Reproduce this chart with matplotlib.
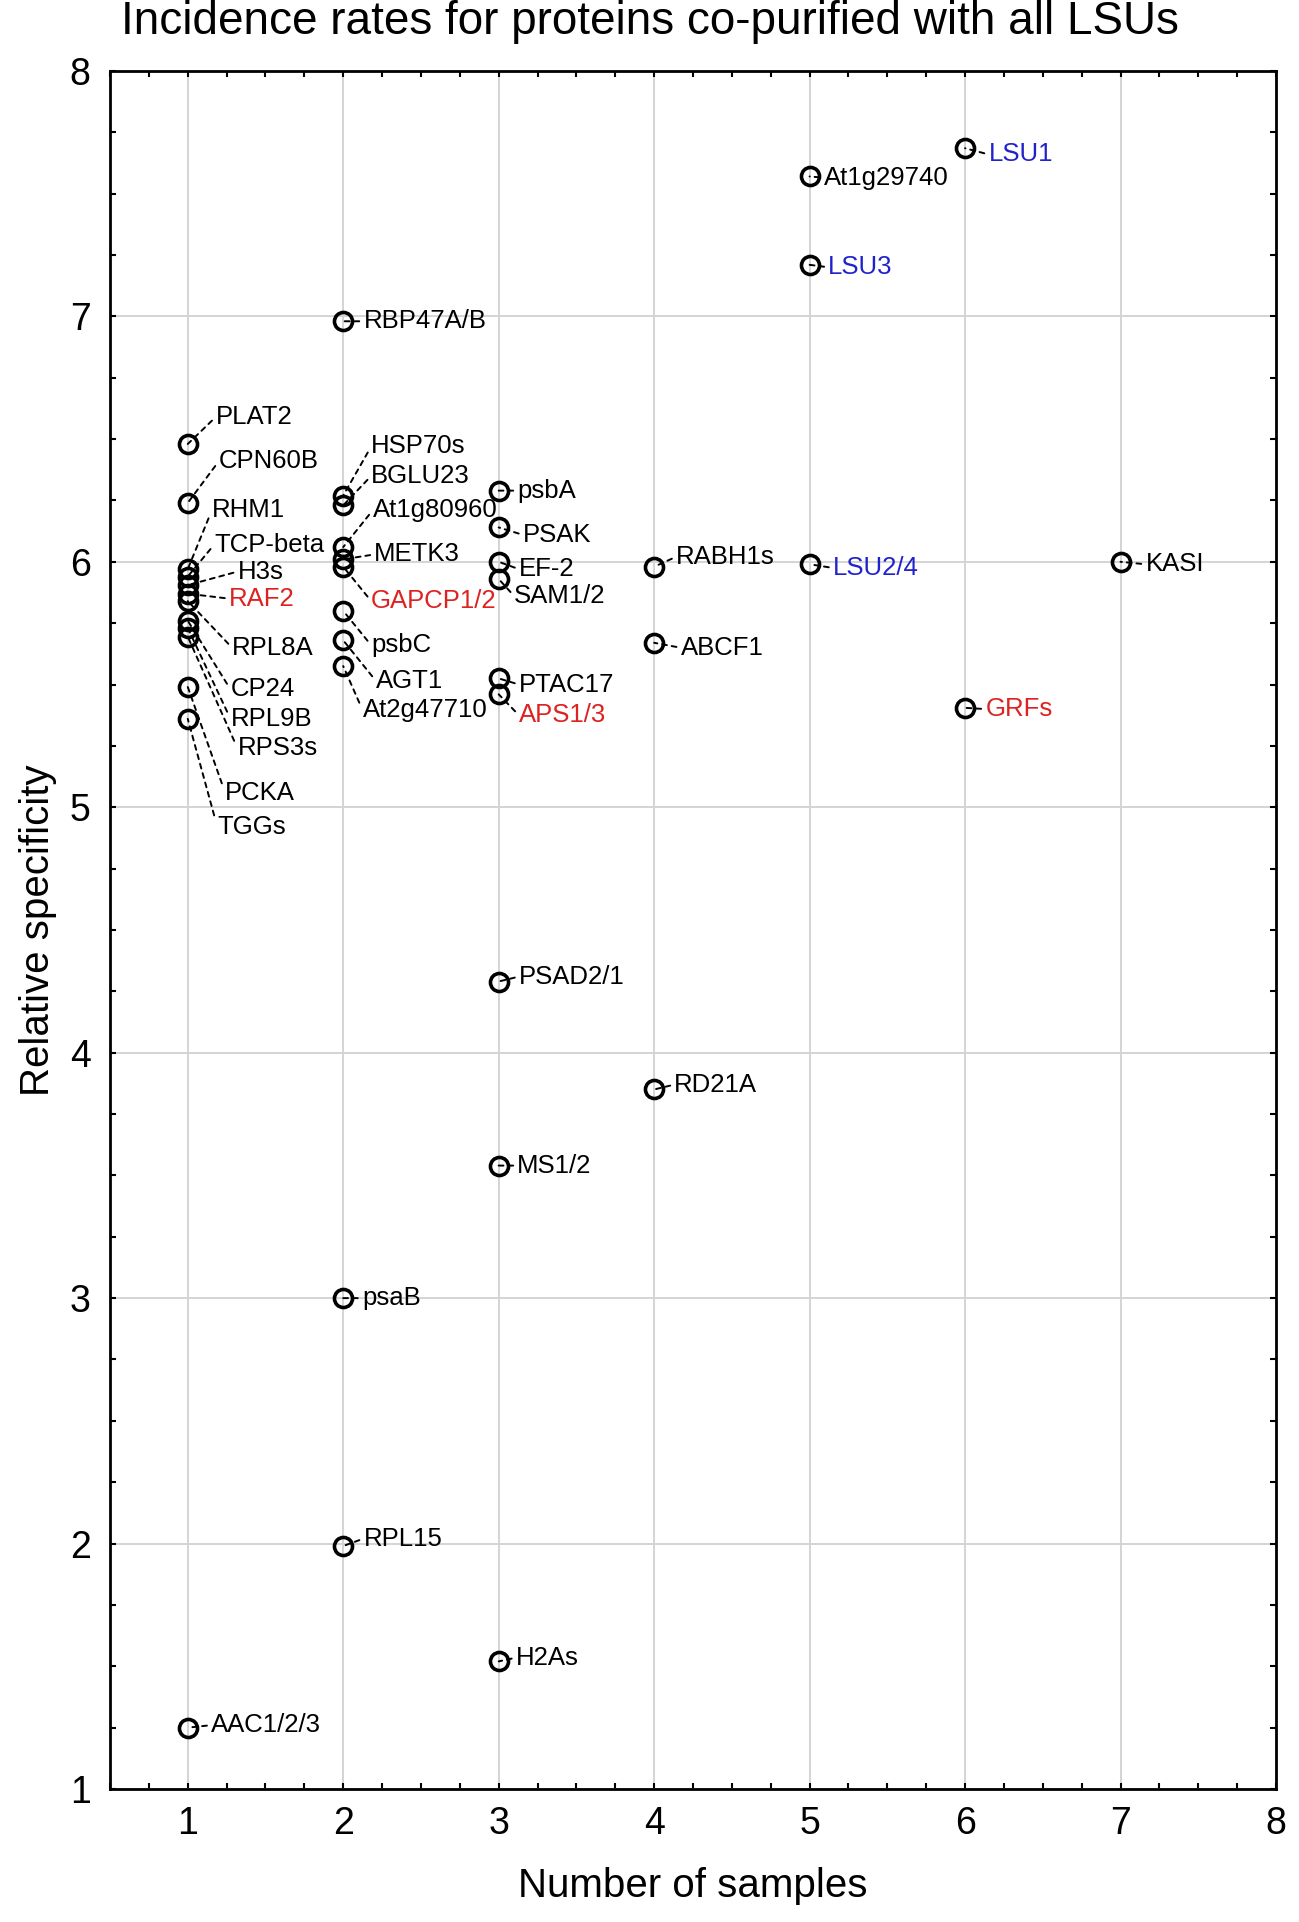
import numpy as np
import matplotlib.pyplot as plt
from matplotlib.ticker import MultipleLocator

plt.rcParams['font.family'] = ['Liberation Sans', 'DejaVu Sans']

# proteins, number of samples (x) and relative specificity (y)
proteins = ['PLAT2', 'CPN60B', 'RHM1', 'TCP-beta', 'H3s', 'RAF2', 'RPL8A', 'CP24', 'RPL9B', 'RPS3s',
            'PCKA', 'TGGs', 'AAC1/2/3',
            'RBP47A/B', 'HSP70s', 'BGLU23', 'At1g80960', 'METK3', 'GAPCP1/2', 'psbC', 'AGT1', 'At2g47710',
            'psaB', 'RPL15',
            'psbA', 'PSAK', 'EF-2', 'SAM1/2', 'PTAC17', 'APS1/3', 'PSAD2/1', 'MS1/2', 'H2As',
            'RABH1s', 'ABCF1', 'RD21A',
            'At1g29740', 'LSU3', 'LSU2/4',
            'LSU1', 'GRFs',
            'KASI']
n_samples = [1, 1, 1, 1, 1, 1, 1, 1, 1, 1, 1, 1, 1,
             2, 2, 2, 2, 2, 2, 2, 2, 2, 2, 2,
             3, 3, 3, 3, 3, 3, 3, 3, 3,
             4, 4, 4,
             5, 5, 5,
             6, 6,
             7]
specificity = [6.48, 6.24, 5.97, 5.94, 5.905, 5.87, 5.84, 5.76, 5.73, 5.695, 5.49, 5.36, 1.25,
               6.98, 6.27, 6.23, 6.06, 6.01, 5.98, 5.80, 5.68, 5.575, 3.00, 1.99,
               6.29, 6.14, 6.00, 5.93, 5.525, 5.46, 4.29, 3.54, 1.52,
               5.98, 5.67, 3.85,
               7.57, 7.21, 5.99,
               7.685, 5.405,
               6.00]

# label placement (text left edge, text centre) in data units
label_pos = [(1.18, 6.59), (1.20, 6.41), (1.155, 6.21), (1.17, 6.07), (1.32, 5.96), (1.265, 5.85),
             (1.285, 5.65), (1.275, 5.48), (1.275, 5.36), (1.32, 5.24), (1.24, 5.06), (1.19, 4.92),
             (1.15, 1.26),
             (2.13, 6.98), (2.18, 6.47), (2.18, 6.35), (2.19, 6.21), (2.20, 6.03), (2.18, 5.84),
             (2.18, 5.66), (2.21, 5.515), (2.125, 5.395), (2.12, 3.00), (2.13, 2.02),
             (3.12, 6.29), (3.155, 6.11), (3.13, 5.97), (3.10, 5.86), (3.13, 5.50), (3.13, 5.375),
             (3.13, 4.31), (3.12, 3.54), (3.11, 1.535),
             (4.14, 6.02), (4.17, 5.65), (4.13, 3.87),
             (5.09, 7.565), (5.12, 7.20), (5.15, 5.975),
             (6.15, 7.66), (6.13, 5.40),
             (7.16, 5.99)]

highlight = {'LSU1': '#2222cc', 'LSU3': '#2222cc', 'LSU2/4': '#2222cc',
             'RAF2': '#dd2222', 'GAPCP1/2': '#dd2222', 'APS1/3': '#dd2222', 'GRFs': '#dd2222'}

fig = plt.figure(figsize=(12.99, 19.22), dpi=100)
ax = fig.add_axes([0.0847, 0.0692, 0.8976, 0.8939])

ax.grid(True, which='major', color='#d4d4d4', lw=1.4)
ax.set_axisbelow(True)

for name, x, y, (tx, ty) in zip(proteins, n_samples, specificity, label_pos):
    ax.annotate(name, xy=(x, y), xytext=(tx, ty), ha='left', va='center',
                fontsize=18.5, color=highlight.get(name, 'black'),
                arrowprops=dict(arrowstyle='-', color='black', lw=1.4, linestyle=(0, (2.5, 2.5)),
                                shrinkA=1, shrinkB=0, relpos=(0, 0.5)))

ax.plot(n_samples, specificity, 'o', ms=13, mfc='none', mec='black', mew=2.6, zorder=3)

ax.set_xlim(0.5, 8)
ax.set_ylim(1, 8)
ax.xaxis.set_major_locator(MultipleLocator(1))
ax.yaxis.set_major_locator(MultipleLocator(1))
ax.xaxis.set_minor_locator(MultipleLocator(0.25))
ax.yaxis.set_minor_locator(MultipleLocator(0.25))
ax.tick_params(which='both', direction='in', top=True, right=True, length=4, width=1.5)
ax.tick_params(axis='x', which='major', labelsize=27, pad=12)
ax.tick_params(axis='y', which='major', labelsize=27, pad=14)
for s in ax.spines.values():
    s.set_linewidth(2)

ax.set_xlabel('Number of samples', fontsize=29, labelpad=18)
ax.set_ylabel('Relative specificity', fontsize=29, labelpad=9)
fig.text(0.5, 1 - 34 / 1922, 'Incidence rates for proteins co-purified with all LSUs',
         ha='center', va='baseline', fontsize=33)

fig.savefig('out.png', dpi=100)
